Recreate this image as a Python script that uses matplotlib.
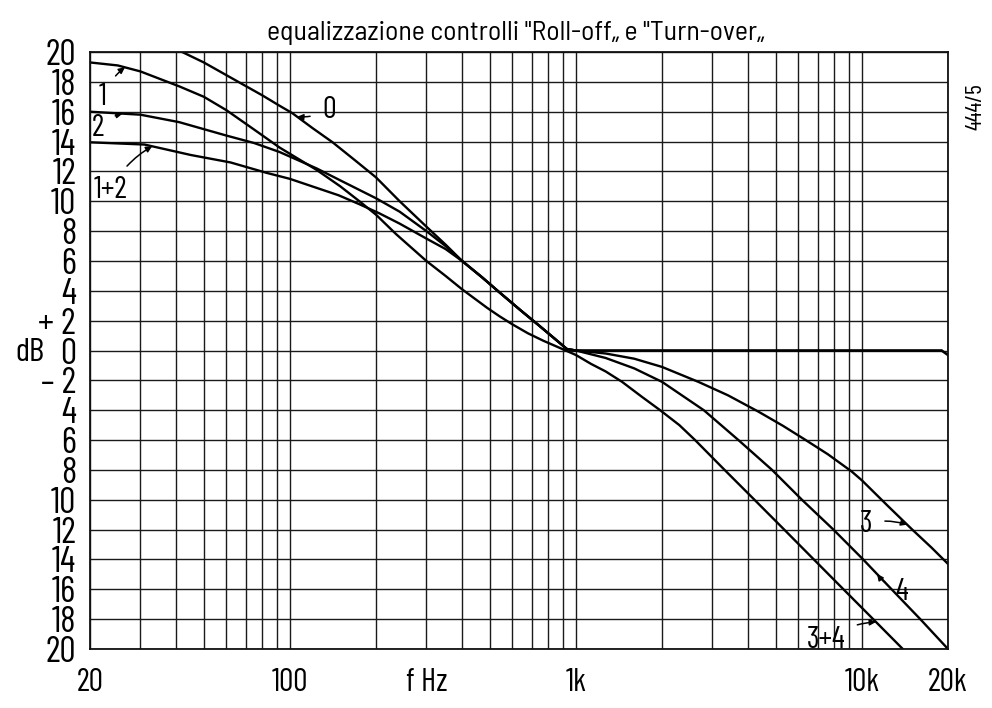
import numpy as np
import matplotlib
matplotlib.use("Agg")
import matplotlib.pyplot as plt

plt.rcParams['font.family'] = ['Barlow Condensed', 'DejaVu Sans']

# Bass curves (turn-over), 20 Hz .. 1 kHz
f_0 = [42, 50, 66, 80, 92, 102, 120, 141, 170, 200, 242, 300, 350, 400, 470, 540, 640, 735, 830, 930, 1000]
db_0 = [20, 19.3, 18.0, 17.1, 16.4, 15.9, 14.9, 13.95, 12.7, 11.6, 10.0, 8.3, 7.1, 6.0, 4.9, 3.9, 2.7, 1.75, 0.9, 0.1, 0]

f_1 = [20, 25, 30, 41, 50, 60, 75, 92, 110, 124, 150, 175, 200, 235, 300, 350, 400, 490, 540, 600, 680, 770, 860, 1000]
db_1 = [19.3, 19.1, 18.7, 17.7, 17.0, 16.1, 14.8, 13.6, 12.7, 12.1, 11.0, 10.0, 9.1, 7.8, 6.0, 5.0, 4.1, 2.85, 2.3, 1.75, 1.15, 0.65, 0.25, -0.3]

f_2 = [20, 30, 41, 60, 75, 92, 124, 150, 200, 242, 300, 350, 400, 470, 540, 640, 735, 830, 930, 1000]
db_2 = [16.0, 15.8, 15.3, 14.4, 13.9, 13.3, 12.2, 11.4, 10.2, 9.3, 8.0, 7.0, 6.0, 4.9, 3.9, 2.7, 1.75, 0.9, 0.1, 0]

f_12 = [20, 31, 45, 62, 83, 100, 148, 175, 205, 242, 300, 350, 400, 470, 540, 640, 735, 830, 930, 1000]
db_12 = [13.95, 13.8, 13.1, 12.6, 11.9, 11.5, 10.4, 9.8, 9.2, 8.5, 7.5, 6.8, 6.0, 4.9, 3.9, 2.7, 1.75, 0.9, 0.1, 0]

# flat part above 1 kHz
f_flat = [1000, 19000, 20000]
db_flat = [0, 0, -0.3]

# Treble curves (roll-off), 1 kHz .. 20 kHz
f_3 = [1000, 1270, 1600, 2000, 2680, 3400, 4350, 5300, 6300, 7600, 9200, 10000, 12300, 15000, 17500, 20000]
db_3 = [0, -0.2, -0.55, -1.1, -2.1, -3.0, -4.1, -5.05, -5.95, -6.95, -8.1, -8.7, -10.4, -12.0, -13.2, -14.3]

f_4 = [1000, 1270, 1600, 2000, 2800, 3700, 4850, 6170, 7950, 10100, 12700, 16000, 20000]
db_4 = [0, -0.5, -1.2, -2.1, -4.0, -6.0, -8.0, -10.0, -12.0, -14.0, -16.0, -18.0, -20.0]

f_34 = [1000, 1130, 1270, 1450, 1700, 1970, 2300, 2610, 3310, 4210, 5350, 6790, 8620, 10950, 13900]
db_34 = [-0.3, -0.9, -1.4, -2.1, -3.1, -4.0, -5.0, -6.0, -8.0, -10.0, -12.0, -14.0, -16.0, -18.0, -20.0]

y_ticks = list(range(20, -21, -2))
y_labels = ['20', '18', '16', '14', '12', '10', '8', '6', '4', '+ 2', '0', '– 2',
            '4', '6', '8', '10', '12', '14', '16', '18', '20']
x_ticks = [20, 100, 1000, 10000, 20000]
x_labels = ['20', '100', '1k', '10k', '20k']

curves = {
    '0': (f_0, db_0), '1': (f_1, db_1), '2': (f_2, db_2), '1+2': (f_12, db_12),
    '3': (f_3, db_3), '4': (f_4, db_4), '3+4': (f_34, db_34),
}

# label, frequency where the arrow points, text offset (pixels)
labels = [
    ('0', 106, (32, 7)),
    ('1', 26.5, (-22, -30)),
    ('2', 26, (-25, -14)),
    ('1+2', 33, (-42, -44)),
    ('3', 14400, (-41, 1)),
    ('4', 11300, (25, -18)),
    ('3+4', 11200, (-50, -18)),
]

fig = plt.figure(figsize=(9.92, 7.08), dpi=100)
ax = fig.add_axes((90 / 992, 1 - 649 / 708, 858 / 992, 597 / 708))

ax.set_xscale('log')
ax.set_xlim(20, 20000)
ax.set_ylim(-20, 20)

# grid
ax.set_xticks(x_ticks)
ax.set_xticklabels(x_labels)
ax.xaxis.set_minor_locator(matplotlib.ticker.LogLocator(base=10, subs=np.arange(2, 10)))
ax.xaxis.set_minor_formatter(matplotlib.ticker.NullFormatter())
ax.set_yticks(y_ticks)
ax.set_yticklabels(y_labels)
ax.grid(True, which='both', color='#1a1a1a', lw=1.0)
ax.tick_params(which='both', length=0)
ax.tick_params(axis='y', labelsize=26, pad=10)
ax.tick_params(axis='x', labelsize=23, pad=14)
for s in ax.spines.values():
    s.set_linewidth(1.3)
    s.set_color('#111111')

# curves
for name, (f, db) in curves.items():
    ax.plot(f, db, color='k', lw=1.7, solid_capstyle='round')
ax.plot(f_flat, db_flat, color='k', lw=1.9)

# labels with arrows
for lab, fx, off in labels:
    f, db = curves[lab]
    yv = np.interp(np.log10(fx), np.log10(f), db)
    ax.annotate(lab, xy=(fx, yv), xytext=off, textcoords='offset pixels',
                ha='center', va='center', fontsize=22,
                arrowprops=dict(arrowstyle='-|>', color='k', lw=1.1,
                                mutation_scale=9, shrinkA=7, shrinkB=0,
                                connectionstyle='arc3,rad=-0.15'))

fig.text(0.52, 1 - 33 / 708, 'equalizzazione controlli "Roll-off„ e "Turn-over„',
         ha='center', va='center', fontsize=20,
         family=['Barlow Semi Condensed', 'DejaVu Sans'])
fig.text(30 / 992, 1 - 353 / 708, 'dB', ha='center', va='center', fontsize=24)
fig.text(427 / 992, 1 - 683 / 708, 'f Hz', ha='center', va='center', fontsize=23)
fig.text(976 / 992, 1 - 107 / 708, '444/5', ha='center', va='center',
         rotation=90, fontsize=17)

fig.savefig('out.png', dpi=100)
